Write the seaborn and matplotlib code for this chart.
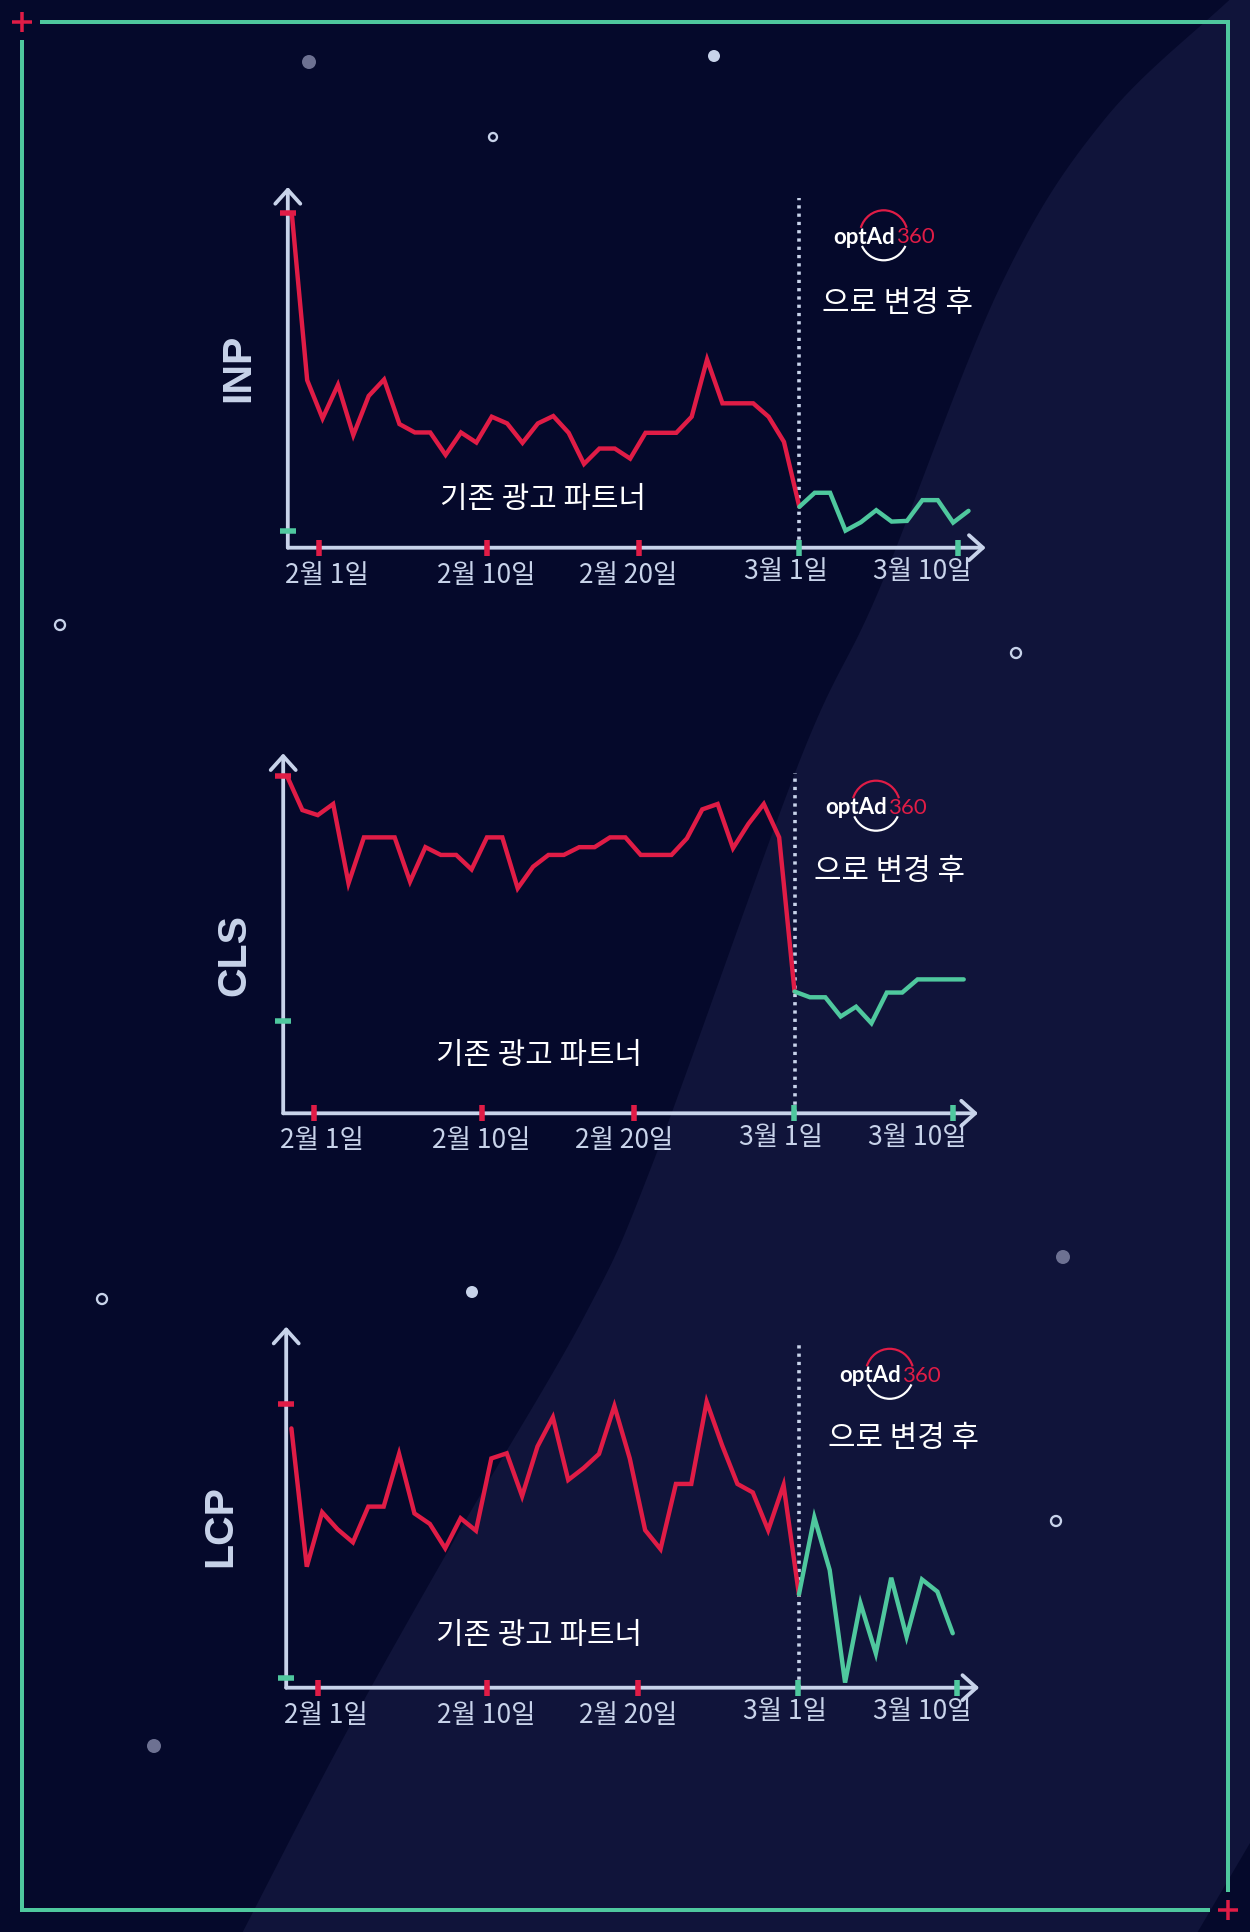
import numpy as np
import pandas as pd
import matplotlib
matplotlib.use("Agg")
import matplotlib.pyplot as plt
import seaborn as sns
from matplotlib.patches import Polygon, Circle, Arc

# ------------------------------------------------------------------ data
tick_labels = ["2월 1일", "2월 10일", "2월 20일", "3월 1일", "3월 10일"]
tick_days = [1.75, 12.7, 22.55, 32.95, 43.3]
switch_day = 33

before_label = "기존 광고 파트너"
after_label = "으로 변경 후"
logo_word = "optAd"
logo_num = "360"

inp_before = [99.8, 50.0, 38.6, 48.6, 33.6, 45.3, 50.2, 36.9, 34.4, 34.4,
              27.7, 34.4, 31.4, 39.1, 37.1, 31.3, 37.1, 39.3, 34.3, 25.0,
              29.6, 29.6, 26.6, 34.3, 34.3, 34.3, 39.1, 56.2, 43.1, 43.1,
              43.1, 39.1, 31.6, 12.2]
inp_after = [12.2, 16.4, 16.4, 5.1, 7.6, 11.2, 7.8, 8.0, 14.2, 14.2, 7.5, 11.0]
inp_marks = [100, 5.1]

cls_before = [100, 89.9, 88.4, 91.7, 68.2, 81.8, 81.8, 81.8, 68.7, 78.9,
              76.6, 76.6, 72.3, 81.8, 81.8, 66.7, 73.1, 76.6, 76.6, 78.9,
              78.9, 81.8, 81.8, 76.6, 76.6, 76.6, 81.5, 90.1, 91.7, 78.6,
              85.8, 91.7, 81.8, 36.1]
cls_after = [36.1, 34.4, 34.4, 28.7, 31.6, 26.7, 35.8, 35.8, 39.7, 39.7, 39.7, 39.7]
cls_marks = [100, 27.5]

lcp_before = [91.5, 42.7, 61.9, 55.9, 51.3, 63.9, 63.9, 82.5, 61.5, 57.8,
              49.2, 59.8, 55.4, 80.9, 82.7, 67.6, 85.1, 95.4, 73.3, 77.5,
              82.5, 99.4, 80.9, 55.6, 48.9, 71.9, 71.9, 100.9, 85.6, 71.9,
              68.9, 55.6, 71.5, 32.9]
lcp_after = [32.9, 60.1, 41.5, 1.8, 29.8, 12.1, 38.8, 18.0, 38.2, 33.9, 19.2]
lcp_marks = [100, 3.3]

metrics = ["INP", "CLS", "LCP"]

# ------------------------------------------------------------------ style
BG = "#05092b"
BG2 = "#10143a"
RED = "#e01c46"
TEAL = "#4fc89e"
AXC = "#c8d3ea"
WHITE = "#ffffff"
GRAY = "#6d7192"

W, H = 1250, 1932
DPI = 100
PT = 72.0 / DPI  # points per pixel

sns.set_theme(style="dark")
plt.rcParams["font.family"] = ["Noto Sans CJK KR", "DejaVu Sans"]

fig = plt.figure(figsize=(W / DPI, H / DPI), dpi=DPI, facecolor=BG)
bg = fig.add_axes([0, 0, 1, 1])
bg.set_xlim(0, W)
bg.set_ylim(H, 0)
bg.axis("off")
bg.add_patch(plt.Rectangle((0, 0), W, H, color=BG, zorder=0))


def catmull(points, n=24):
    p = np.asarray(points, float)
    p = np.vstack([p[0] * 2 - p[1], p, p[-1] * 2 - p[-2]])
    out = []
    for i in range(1, len(p) - 2):
        p0, p1, p2, p3 = p[i - 1], p[i], p[i + 1], p[i + 2]
        for t in np.linspace(0, 1, n, endpoint=False):
            t2, t3 = t * t, t * t * t
            out.append(0.5 * ((2 * p1) + (-p0 + p2) * t + (2 * p0 - 5 * p1 + 4 * p2 - p3) * t2
                              + (-p0 + 3 * p1 - 3 * p2 + p3) * t3))
    out.append(p[-2])
    return [tuple(q) for q in out]


# lighter sweeping band (smooth left edge)
left_edge = [(1240, -10), (1104, 120), (1000, 287), (879, 590), (800, 760),
             (654, 1160), (585, 1315), (460, 1530), (345, 1735), (236, 1945)]
band = catmull(left_edge) + [(1190, 1945), (1250, 1843), (1250, -10)]
bg.add_patch(Polygon(band, closed=True, color=BG2, lw=0, zorder=0.5))

# frame
flw = 4 * PT
bg.plot([40, 1228], [22, 22], color=TEAL, lw=flw, solid_capstyle="butt", zorder=1)
bg.plot([1228, 1228], [20, 1892], color=TEAL, lw=flw, solid_capstyle="butt", zorder=1)
bg.plot([22, 22], [40, 1912], color=TEAL, lw=flw, solid_capstyle="butt", zorder=1)
bg.plot([20, 1210], [1910, 1910], color=TEAL, lw=flw, solid_capstyle="butt", zorder=1)
for (px, py) in [(22, 22), (1228, 1910)]:
    bg.plot([px - 10, px + 10], [py, py], color=RED, lw=3.5 * PT, solid_capstyle="butt", zorder=2)
    bg.plot([px, px], [py - 10, py + 10], color=RED, lw=3.5 * PT, solid_capstyle="butt", zorder=2)

# decorative dots
for (px, py) in [(309, 62), (1063, 1257), (154, 1746)]:
    bg.add_patch(Circle((px, py), 7, color=GRAY, lw=0, zorder=1))
for (px, py) in [(714, 56), (472, 1292)]:
    bg.add_patch(Circle((px, py), 6, color=AXC, lw=0, zorder=1))
for (px, py, r) in [(493, 137, 4), (60, 625, 5), (1016, 653, 5), (102, 1299, 5), (1056, 1521, 5)]:
    bg.add_patch(Circle((px, py), r, fill=False, ec=AXC, lw=2.3 * PT, zorder=1))

# ------------------------------------------------------------------ charts
layout = {
    "INP": dict(ax_x=287.8, ax_y=547.7, top=187, right=985.7, x0=291.8, y100=212.7, dtop=198,
                ylab=(238, 368), logo=(883.7, 235.3), after=(898, 303), before=(543, 500)),
    "CLS": dict(ax_x=283.2, ax_y=1113.3, top=753.3, right=978, x0=287.0, y100=776, dtop=773.3,
                ylab=(234.5, 955), logo=(876, 805.7), after=(890, 871.7), before=(539, 1055)),
    "LCP": dict(ax_x=286.2, ax_y=1687.7, top=1326.7, right=979.2, x0=291.4, y100=1404.3, dtop=1343.3,
                ylab=(220, 1526), logo=(889.7, 1373.8), after=(904, 1438.3), before=(539.5, 1635)),
}
STEP = 15.38
label_days = [2.25, 12.65, 21.9, 32.1, 41.0]
label_drop = [27.5, 27.5, 27.5, 24, 24]

series = {
    "INP": (inp_before, inp_after, inp_marks),
    "CLS": (cls_before, cls_after, cls_marks),
    "LCP": (lcp_before, lcp_after, lcp_marks),
}

for name in metrics:
    L = layout[name]
    before, after, marks = series[name]
    ppu = (L["ax_y"] - L["y100"]) / 100.0
    ax = fig.add_axes([L["ax_x"] / W, 1 - L["ax_y"] / H,
                       (L["right"] - L["ax_x"]) / W, (L["ax_y"] - L["top"]) / H])
    ax.set_facecolor("none")
    ax.patch.set_alpha(0)
    for s in ax.spines.values():
        s.set_visible(False)

    df_b = pd.DataFrame({"day": np.arange(len(before)), "value": before})
    df_a = pd.DataFrame({"day": np.arange(switch_day, switch_day + len(after)), "value": after})
    sns.lineplot(data=df_b, x="day", y="value", ax=ax, color=RED, linewidth=4.4 * PT,
                 legend=False, zorder=3)
    sns.lineplot(data=df_a, x="day", y="value", ax=ax, color=TEAL, linewidth=4.4 * PT,
                 legend=False, zorder=3)
    for ln in ax.lines:
        ln.set_clip_on(False)
        ln.set_solid_joinstyle("miter")

    xmin = (L["ax_x"] - L["x0"]) / STEP
    xmax = (L["right"] - L["x0"]) / STEP
    ymax = (L["ax_y"] - L["top"]) / ppu
    ax.set_xlim(xmin, xmax)
    ax.set_ylim(0, ymax)
    ax.set_xlabel("")
    ax.set_ylabel("")
    ax.grid(False)

    # axis arrows
    arrow = dict(arrowstyle="->,head_length=1.0,head_width=0.9", lw=3.8 * PT, color=AXC,
                 shrinkA=0, shrinkB=0, mutation_scale=10)
    ax.annotate("", xy=(1, 0), xytext=(0, 0), xycoords="axes fraction",
                arrowprops=arrow, zorder=1, annotation_clip=False)
    ax.annotate("", xy=(0, 1), xytext=(0, 0), xycoords="axes fraction",
                arrowprops=arrow, zorder=1, annotation_clip=False)

    # ticks
    ax.set_xticks(tick_days)
    ax.set_xticklabels([])
    ax.set_yticks(marks)
    ax.set_yticklabels([])
    ax.tick_params(axis="both", which="major", bottom=True, left=True, top=False, right=False,
                   direction="inout", length=16.5 * PT, width=5.5 * PT, pad=0)
    xcols = [RED, RED, RED, TEAL, TEAL]
    for t, c in zip(ax.xaxis.get_major_ticks(), xcols):
        t.tick1line.set_visible(True)
        t.tick1line.set_markeredgecolor(c)
        t.tick1line.set_color(c)
        t.tick1line.set_zorder(4)
    for t, c in zip(ax.yaxis.get_major_ticks(), [RED, TEAL]):
        t.tick1line.set_visible(True)
        t.tick1line.set_markeredgecolor(c)
        t.tick1line.set_color(c)
        t.tick1line.set_zorder(4)
    ax.xaxis.set_zorder(4)
    ax.yaxis.set_zorder(4)

    for lab, d, drop in zip(tick_labels, label_days, label_drop):
        ax.annotate(lab, xy=(d, 0), xycoords="data", xytext=(0, -drop * PT),
                    textcoords="offset points", ha="center", va="center",
                    fontsize=19, color=AXC, annotation_clip=False)

    # switch line
    ax.vlines(switch_day, 0, (L["ax_y"] - L["dtop"]) / ppu, colors=AXC,
              linewidth=3.6 * PT, linestyles=(0, (0.9, 1.4)), zorder=2, clip_on=False)

    # y label
    bg.text(L["ylab"][0], L["ylab"][1], name, rotation=90, ha="center", va="center",
            fontsize=29.5, fontweight="bold", color=AXC,
            family=["Liberation Sans", "DejaVu Sans"], zorder=5)

    # logo
    cx, cy = L["logo"]
    bg.add_patch(Arc((cx, cy), 48, 50, theta1=198, theta2=342, color=RED, lw=2.2 * PT, zorder=5))
    bg.add_patch(Arc((cx, cy), 48, 50, theta1=26, theta2=154, color=WHITE, lw=2.2 * PT, zorder=5))
    bg.text(cx + 11, cy + 2, logo_word, ha="right", va="center", fontsize=16,
            fontweight="bold", color=WHITE, family=["Lato", "DejaVu Sans"], zorder=6)
    bg.text(cx + 12, cy + 2, logo_num, ha="left", va="center", fontsize=16,
            fontweight="normal", color=RED, family=["Lato", "DejaVu Sans"], zorder=6)

    bg.text(L["after"][0], L["after"][1], after_label, ha="center", va="center",
            fontsize=21.5, color=WHITE, zorder=6)
    bg.text(L["before"][0], L["before"][1], before_label, ha="center", va="center",
            fontsize=21.5, color=WHITE, zorder=6)

fig.savefig("out.png", dpi=DPI, facecolor=BG)
